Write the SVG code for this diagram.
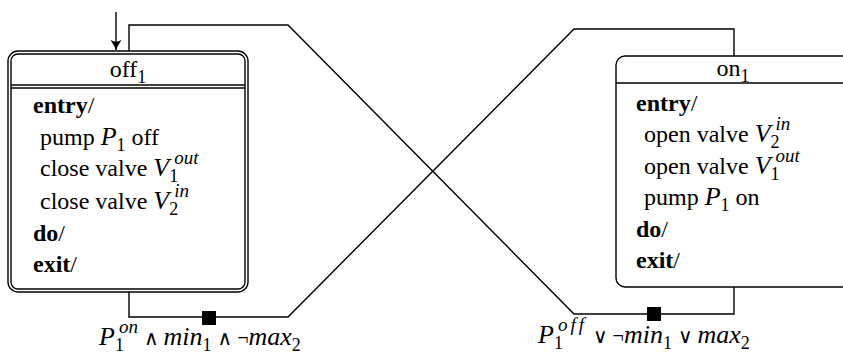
<svg xmlns="http://www.w3.org/2000/svg" width="843" height="356" viewBox="0 0 843 356">
<style>
.t{font-family:"Liberation Serif","DejaVu Serif",serif;font-size:24px;fill:#000}
.b{font-weight:bold}
.i{font-style:italic;font-size:26px}
.s{font-size:18px;font-style:normal}
.si{font-size:19px;font-style:italic}
.op{font-size:20px;font-style:normal}
.ln{fill:none;stroke:#000;stroke-width:1.4}
.bx{fill:#fff;stroke:#000;stroke-width:1.4}
</style>
<defs>
<marker id="ah" viewBox="0 0 10 12" refX="10" refY="6" markerWidth="10" markerHeight="12" markerUnits="userSpaceOnUse" orient="auto">
<path d="M0,0.5 Q6,4.5 10,6 Q6,7.5 0,11.5 Q3.5,6 0,0.5Z" fill="#000"/>
</marker>
</defs>
<g id="connectors">
<line class="ln" x1="116" y1="12" x2="116" y2="50" marker-end="url(#ah)"/>
<path class="ln" d="M129,51 V25 H288 L574,314 H734 V287"/>
<path class="ln" d="M129,292 V317 H288 L574,29 H734 V56"/>
<rect x="202" y="311" width="14" height="14" fill="#000"/>
<rect x="647" y="307" width="14" height="14" fill="#000"/>
<text class="t" x="99" y="345"><tspan class="i">P</tspan><tspan class="s" dy="6">1</tspan><tspan class="si" dx="-5" dy="-18">on</tspan><tspan class="op" dx="6" dy="12">∧ </tspan><tspan class="i">min</tspan><tspan class="s" dy="6">1</tspan><tspan class="op" dx="6" dy="-6">∧ ¬</tspan><tspan class="i">max</tspan><tspan class="s" dy="6">2</tspan></text>
<text class="t" x="538" y="343"><tspan class="i">P</tspan><tspan class="s" dy="6">1</tspan><tspan class="si" dx="-5" dy="-18" letter-spacing="3">off</tspan><tspan class="op" dx="6" dy="12">∨ ¬</tspan><tspan class="i">min</tspan><tspan class="s" dy="6">1</tspan><tspan class="op" dx="6" dy="-6">∨ </tspan><tspan class="i">max</tspan><tspan class="s" dy="6">2</tspan></text>
</g>
<g id="off1">
<rect class="bx" x="8" y="51" width="240" height="241" rx="10"/>
<rect class="ln" x="11" y="54" width="234" height="235" rx="7"/>
<line class="ln" x1="11" y1="85" x2="245" y2="85"/>
<line class="ln" x1="11" y1="88" x2="245" y2="88"/>
<text class="t" x="128" y="77" text-anchor="middle">off<tspan class="s" dy="6">1</tspan></text>
<text class="t" x="33" y="113"><tspan class="b">entry</tspan>/</text>
<text class="t" x="40" y="145">pump <tspan class="i">P</tspan><tspan class="s" dy="6">1</tspan><tspan dy="-6"> off</tspan></text>
<text class="t" x="40" y="176">close valve <tspan class="i">V</tspan><tspan class="s" dy="6">1</tspan><tspan class="si" dx="-4" dy="-18">out</tspan></text>
<text class="t" x="40" y="209">close valve <tspan class="i">V</tspan><tspan class="s" dy="6">2</tspan><tspan class="si" dx="-4" dy="-18">in</tspan></text>
<text class="t" x="33" y="241"><tspan class="b">do</tspan>/</text>
<text class="t" x="33" y="272"><tspan class="b">exit</tspan>/</text>
</g>
<g id="on1">
<rect class="bx" x="616" y="56" width="262" height="231" rx="9"/>
<line class="ln" x1="616" y1="83" x2="843" y2="83"/>
<text class="t" x="733" y="76" text-anchor="middle">on<tspan class="s" dy="6">1</tspan></text>
<text class="t" x="636" y="111"><tspan class="b">entry</tspan>/</text>
<text class="t" x="644" y="142">open valve <tspan class="i">V</tspan><tspan class="s" dy="6">2</tspan><tspan class="si" dx="-4" dy="-18">in</tspan></text>
<text class="t" x="644" y="174">open valve <tspan class="i">V</tspan><tspan class="s" dy="6">1</tspan><tspan class="si" dx="-4" dy="-18">out</tspan></text>
<text class="t" x="644" y="205">pump <tspan class="i">P</tspan><tspan class="s" dy="6">1</tspan><tspan dy="-6"> on</tspan></text>
<text class="t" x="636" y="237"><tspan class="b">do</tspan>/</text>
<text class="t" x="636" y="268"><tspan class="b">exit</tspan>/</text>
</g>
</svg>
